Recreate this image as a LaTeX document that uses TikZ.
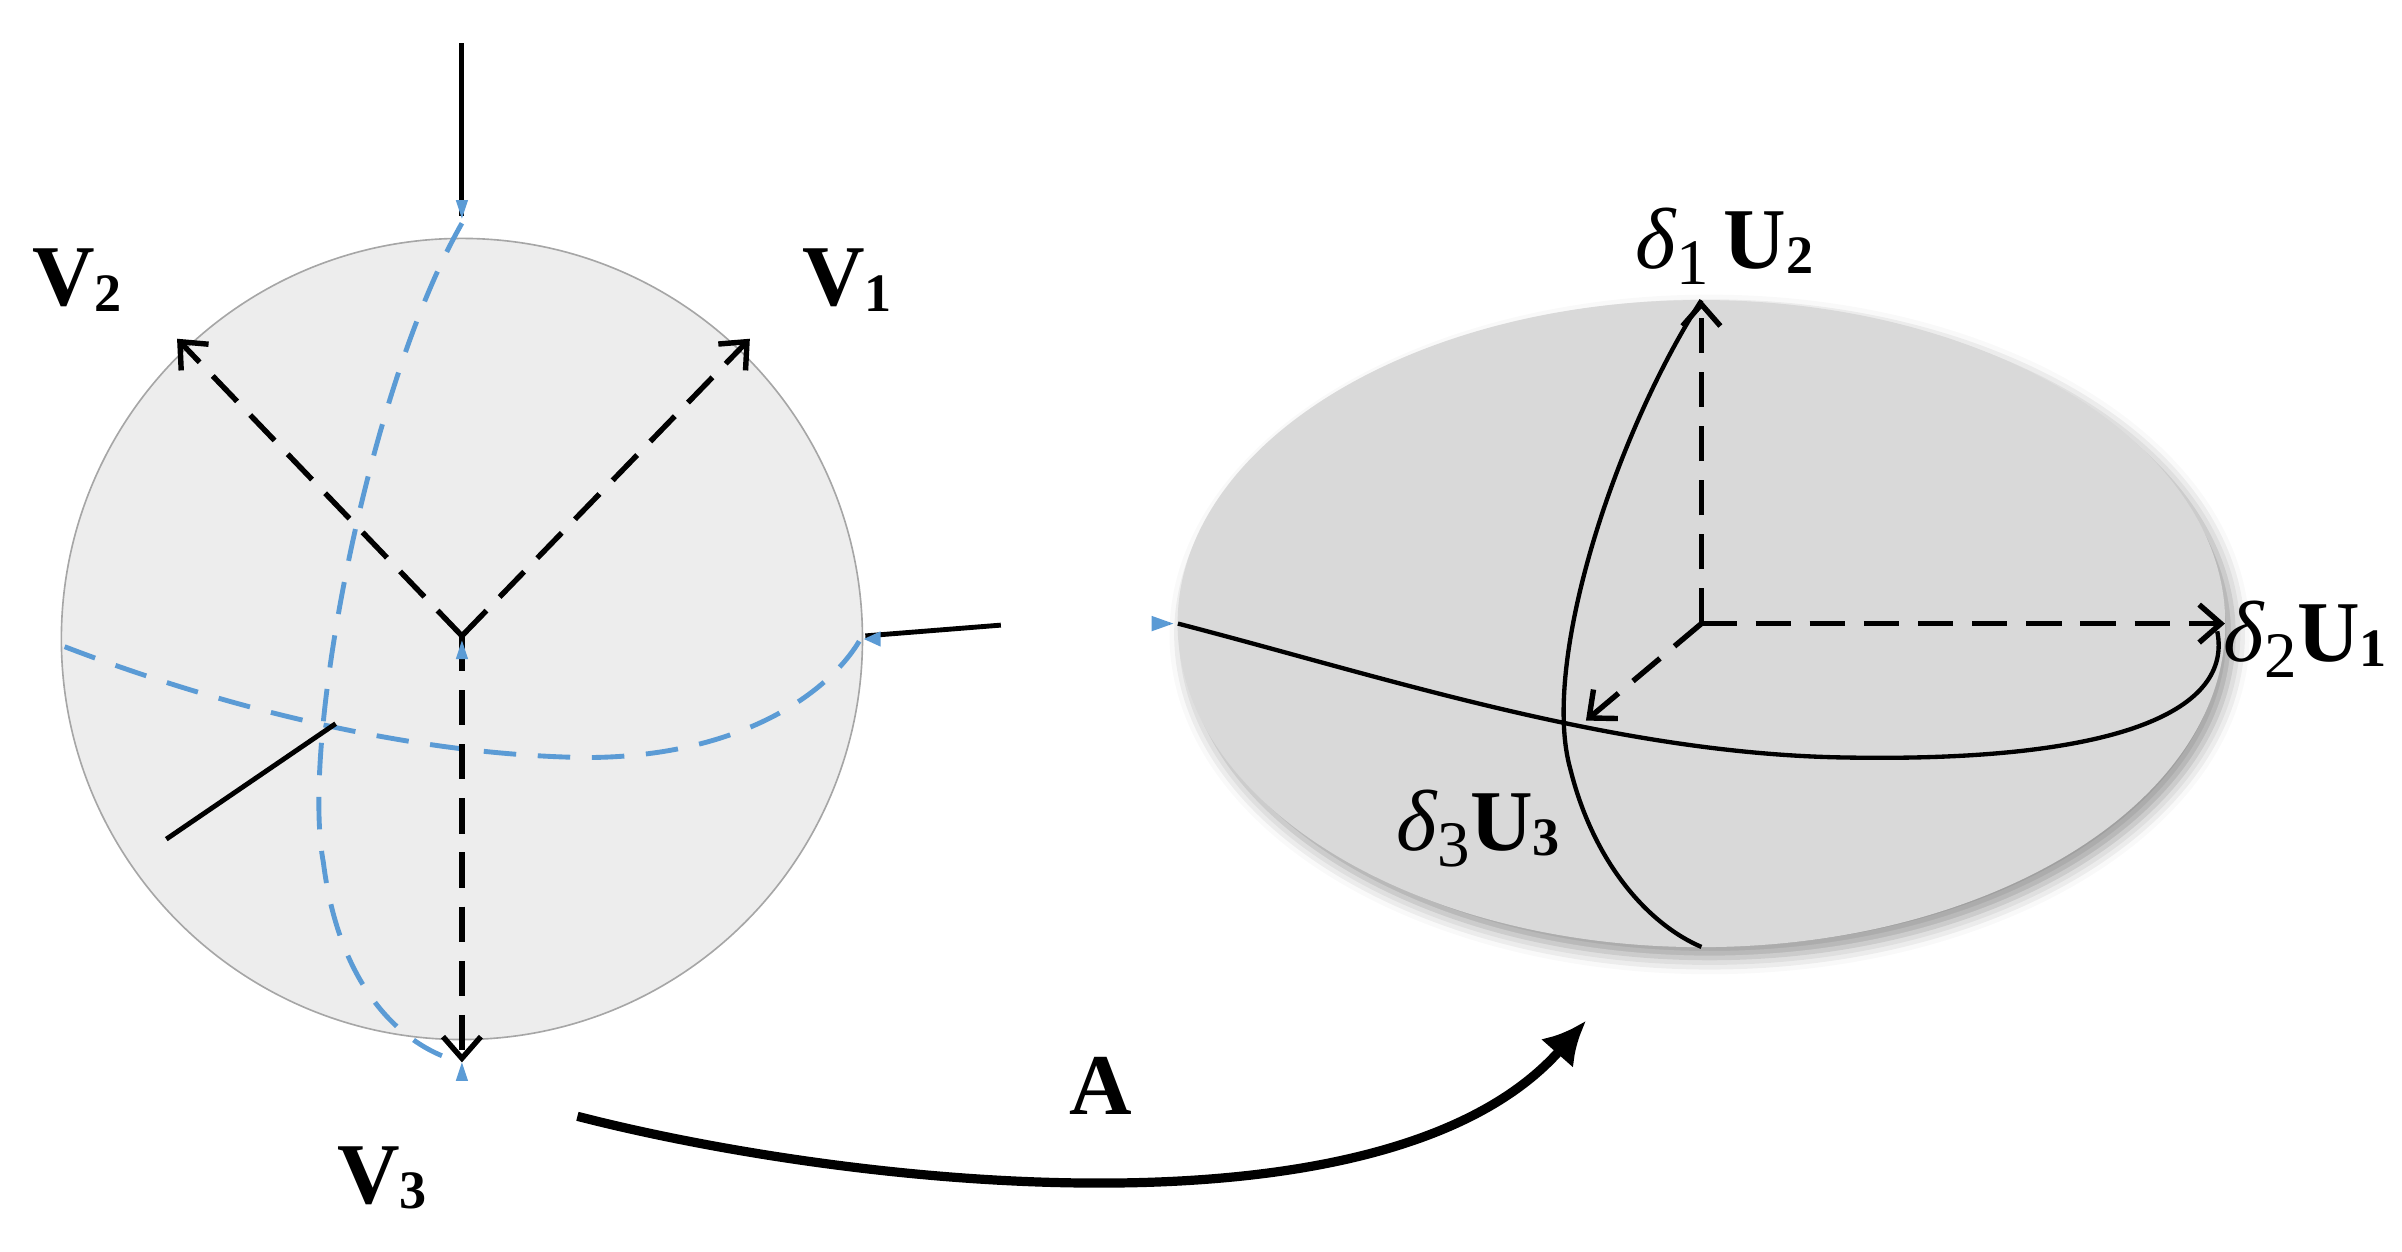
\documentclass[tikz,border=0pt]{standalone}
\usepackage{fontspec}
\setmainfont{Liberation Serif}
\usetikzlibrary{arrows.meta,shadows.blur,shapes.geometric}
\newcommand{\dl}[1]{\textit{δ}\raisebox{-3pt}{\fontsize{12}{12}\selectfont #1}}
\newcommand{\sbn}[1]{\raisebox{-1pt}{\fontsize{10}{10}\selectfont\textbf{#1}}}
\begin{document}
\begin{tikzpicture}[x=0.01cm,y=-0.01cm,
 dsh/.style={line width=1pt,dash pattern=on 6.5pt off 3.5pt,-{Straight Barb[length=4pt,width=7pt]}},
 blu/.style={draw={rgb,255:red,91;green,155;blue,213},line width=0.9pt,dash pattern=on 6pt off 4pt},
 mk/.style={fill={rgb,255:red,91;green,155;blue,213},draw=none},
 lab/.style={font=\fontsize{16}{16}\selectfont}]
\useasboundingbox (0,0) rectangle (1560,813);
% sphere
\node[circle,draw=gray!70,line width=0.3pt,fill=gray!14,minimum size=5.2cm,inner sep=0pt] (S) at (300,415) {};
\coordinate (O) at (300,413);
\coordinate (T) at (300,28);
\coordinate (Ttop) at (300,140);
\draw[line width=0.9pt] (T) -- (Ttop);
\draw[blu] (300,145) .. controls (240,250) and (195,480) .. (210,560) .. controls (220,640) and (260,680) .. (300,690);
\draw[blu] (42,420) .. controls (120,450) and (250,490) .. (380,492) .. controls (480,492) and (540,450) .. (560,413);
\draw[line width=0.9pt] (108,545) -- (218,470);
\draw[line width=0.9pt] (562,413) -- (650,406);
\draw[dsh] (O) -- (487,220);
\draw[dsh] (O) -- (115,220);
\draw[dsh] (O) -- (300,690);
\fill[mk] (296,130) -- (304,130) -- (300,142) -- cycle;
\fill[mk] (296,428) -- (304,428) -- (300,416) -- cycle;
\fill[mk] (296,702) -- (304,702) -- (300,690) -- cycle;
\fill[mk] (572,410) -- (572,420) -- (561,415) -- cycle;
\fill[mk] (748,400) -- (748,410) -- (762,405) -- cycle;
\node[lab] (V2) at (50,182) {\textbf{V}\sbn{2}};
\node[lab] (V1) at (550,182) {\textbf{V}\sbn{1}};
\node[lab] (V3) at (248,765) {\textbf{V}\sbn{3}};
% ellipse
\node[ellipse,fill=gray!30,minimum width=6.8cm,minimum height=4.2cm,inner sep=0pt,
  blur shadow={shadow xshift=1.5pt,shadow yshift=-2pt,shadow blur radius=3pt,shadow opacity=40}] (E) at (1105,405) {};
\coordinate (C) at (1105,405);
\draw[dsh] (C) -- (1105,195);
\draw[dsh] (C) -- (1445,405);
\draw[dsh] (C) -- (1030,468);
\draw[line width=0.8pt] (765,405) .. controls (900,440) and (1050,490) .. (1200,492) .. controls (1380,495) and (1450,460) .. (1440,410);
\draw[line width=0.8pt] (1105,195) .. controls (1050,280) and (1000,430) .. (1020,500) .. controls (1035,560) and (1070,600) .. (1105,615);
\node[lab] (L2) at (1120,160) {\dl{1}\,\textbf{U}\sbn{2}};
\node[lab] (L1) at (1497,415) {\dl{2}\textbf{U}\sbn{1}};
\node[lab] (L3) at (960,538) {\dl{3}\textbf{U}\sbn{3}};
% A arrow
\coordinate (A1) at (375,725);
\coordinate (A2) at (1030,663);
\draw[line width=1.7pt,-{Latex[length=8pt,width=8pt]}] (A1) .. controls (550,770) and (900,810) .. (A2);
\node[lab] (A) at (715,705) {\textbf{A}};
\end{tikzpicture}
\end{document}
